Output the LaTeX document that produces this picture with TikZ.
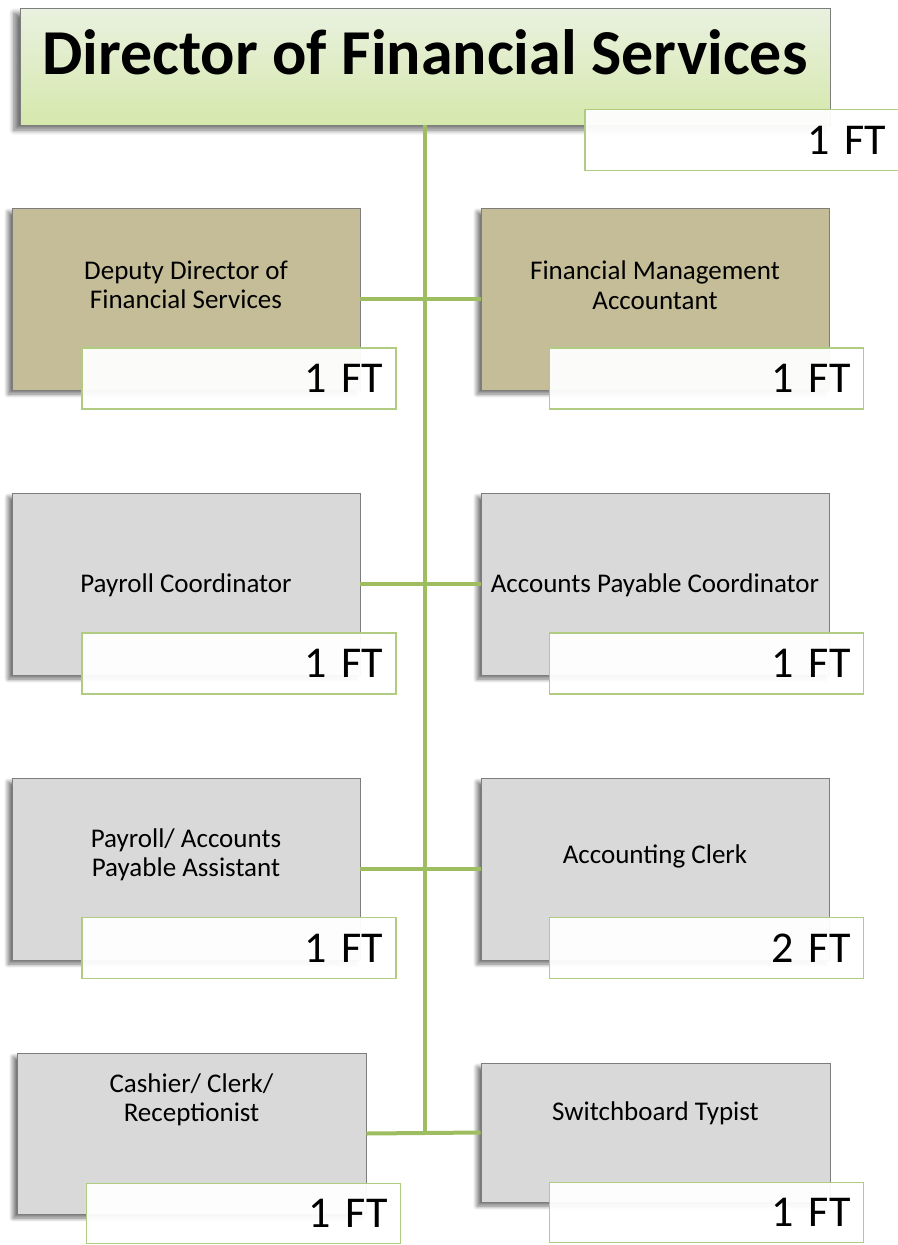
\documentclass[tikz,border=0pt]{standalone}
\usepackage{fontspec}
\setmainfont{Carlito}
\usetikzlibrary{shadows,shadows.blur}
\definecolor{spine}{RGB}{158,189,96}
\definecolor{ftline}{RGB}{176,204,128}
\definecolor{tanfill}{RGB}{196,189,151}
\definecolor{greyfill}{RGB}{217,217,217}
\definecolor{edge}{RGB}{125,125,125}
\definecolor{topgreen}{RGB}{234,241,224}
\definecolor{botgreen}{RGB}{213,232,172}
\begin{document}
\begin{tikzpicture}[x=1pt,y=-1pt,
  post/.style={draw=edge,line width=0.8pt,minimum width=348pt,minimum height=182pt,inner sep=0pt,
    blur shadow={shadow xshift=-4pt,shadow yshift=-4pt,shadow blur radius=4pt,shadow blur steps=8,shadow opacity=55}},
  tanpost/.style={post,fill=tanfill},
  greypost/.style={post,fill=greyfill},
  lbl/.style={align=center,font=\fontsize{27}{29.5}\selectfont,inner sep=0pt},
  ft/.style={draw=ftline,line width=1.2pt,fill=white,fill opacity=0.95,text opacity=1,
    minimum width=314pt,minimum height=61pt,text width=288pt,align=right,inner sep=0pt,
    font=\fontsize{44}{50}\selectfont},
  link/.style={spine,line width=4pt}]
\useasboundingbox (0,0) rectangle (897,1245);
% head of the office
\node[draw=edge,line width=0.8pt,top color=topgreen,bottom color=botgreen,minimum width=810pt,minimum height=117pt,
  blur shadow={shadow xshift=-6pt,shadow yshift=-5pt,shadow blur radius=5pt,shadow blur steps=8,shadow opacity=55}] (dir) at (425,66.5) {};
\node[font=\fontsize{64}{70}\selectfont\bfseries,inner sep=0pt] (dirt) at (425,52) {Director of Financial Services};
% staff boxes
\node[tanpost] (dd) at (186,299) {};
\node[lbl] (ddt) at (186,285) {Deputy Director of\\Financial Services};
\node[tanpost] (fma) at (655,299) {};
\node[lbl] (fmat) at (655,285) {Financial Management\\Accountant};
\node[greypost] (pc) at (186,584) {};
\node[lbl] (pct) at (186,585) {Payroll Coordinator};
\node[greypost] (apc) at (655,584) {};
\node[lbl] (apct) at (655,585) {Accounts Payable Coordinator};
\node[greypost] (pa) at (186,869) {};
\node[lbl] (pat) at (186,855) {Payroll/ Accounts\\Payable Assistant};
\node[greypost] (ac) at (655,869) {};
\node[lbl] (act) at (655,856) {Accounting Clerk};
\node[greypost,minimum width=349pt,minimum height=161pt] (cc) at (191.5,1133.5) {};
\node[lbl] (cct) at (191.5,1100) {Cashier/ Clerk/\\Receptionist};
\node[greypost,minimum width=349pt,minimum height=139pt] (st) at (655.5,1132.5) {};
\node[lbl] (stt) at (655.5,1113) {Switchboard Typist};
% lines
\coordinate (bottom) at (425,1133);
\draw[link] (dir.south) -- (bottom);
\draw[link] (dd.east) -- (fma.west);
\draw[link] (pc.east) -- (apc.west);
\draw[link] (pa.east) -- (ac.west);
\draw[link] (cc.east) -- (st.west);
% head counts
\node[ft] (dirft) at (742,140) {1 FT};
\node[ft] (ddft) at (239,378.5) {1 FT};
\node[ft] (fmaft) at (706.5,378.5) {1 FT};
\node[ft] (pcft) at (239,663.5) {1 FT};
\node[ft] (apcft) at (706.5,663.5) {1 FT};
\node[ft] (paft) at (239,948) {1 FT};
\node[ft] (acft) at (706.5,948) {2 FT};
\node[ft,minimum height=60pt] (ccft) at (243.5,1213.5) {1 FT};
\node[ft,minimum height=60pt] (stft) at (706.5,1212.5) {1 FT};
\end{tikzpicture}
\end{document}
